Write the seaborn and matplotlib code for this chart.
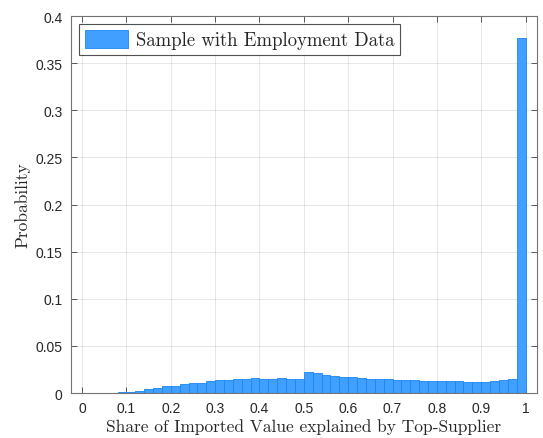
import matplotlib
matplotlib.use("Agg")
import matplotlib.pyplot as plt
import seaborn as sns
import numpy as np

# Data: bins of width 0.02 from 0 to 1, probability per bin
bin_edges = [round(0.02 * i, 2) for i in range(51)]
probabilities = [
    0.0, 0.0, 0.0, 0.0,                     # 0.00 - 0.08
    0.0007, 0.0014, 0.0025, 0.0042, 0.0053,  # 0.08 - 0.18
    0.0071, 0.0078, 0.0099, 0.0110, 0.0110,  # 0.18 - 0.28
    0.0127, 0.0134, 0.0134, 0.0145, 0.0145,  # 0.28 - 0.38
    0.0163, 0.0152, 0.0152, 0.0163, 0.0152,  # 0.38 - 0.48
    0.0152, 0.0226, 0.0216, 0.0194, 0.0180,  # 0.48 - 0.58
    0.0170, 0.0170, 0.0163, 0.0152, 0.0152,  # 0.58 - 0.68
    0.0145, 0.0134, 0.0134, 0.0134, 0.0127,  # 0.68 - 0.78
    0.0127, 0.0127, 0.0127, 0.0127, 0.0115,  # 0.78 - 0.88
    0.0115, 0.0115, 0.0125, 0.0137, 0.0148,  # 0.88 - 0.98
    0.3770,                                  # 0.98 - 1.00
]
bin_centers = [(bin_edges[i] + bin_edges[i + 1]) / 2 for i in range(50)]
x_ticks = [round(0.1 * i, 1) for i in range(11)]
y_ticks = [round(0.05 * i, 2) for i in range(9)]

sns.set_theme(style="white")

fig = plt.figure(figsize=(5.43, 4.39), dpi=100)
ax = fig.add_axes([0.1308, 0.1025, 0.8575, 0.8587])

sns.histplot(x=bin_centers, weights=probabilities, bins=bin_edges,
             stat="count", color="#409fff", alpha=1.0,
             edgecolor="#1a86f5", linewidth=0.6,
             label="Sample with Employment Data", ax=ax)

ax.set_xlim(-0.025, 1.025)
ax.set_ylim(0, 0.4)
ax.set_xticks(x_ticks)
ax.set_yticks(y_ticks)
ax.set_xticklabels([f"{t:g}" for t in x_ticks])
ax.set_yticklabels([f"{t:g}" for t in y_ticks])

ax.grid(True, color="0.15", alpha=0.13, linewidth=0.6)
ax.set_axisbelow(True)

for s in ["bottom", "left", "top", "right"]:
    ax.spines[s].set_color("0.45")
    ax.spines[s].set_linewidth(0.8)

ax.tick_params(which="major", direction="in", length=4, width=0.6,
               color="0.25", top=True, right=True, bottom=True, left=True,
               labelsize=10, labelcolor="0.15", pad=6)
for lbl in ax.get_xticklabels() + ax.get_yticklabels():
    lbl.set_family("Liberation Sans")

ax.set_xlabel("Share of Imported Value explained by Top-Supplier",
              family="cmr10", fontsize=12.5, color="0.15", labelpad=2)
ax.set_ylabel("Probability", family="cmr10", fontsize=12.5,
              color="0.15", labelpad=4)

leg = ax.legend(loc="upper left", prop={"family": "cmr10", "size": 13.5},
                frameon=True, fancybox=False, edgecolor="0.15",
                borderaxespad=0.45, handlelength=2.3, handleheight=1.1,
                borderpad=0.3, handletextpad=0.4)
leg.get_frame().set_linewidth(0.8)

fig.savefig("out.png", dpi=100, facecolor="white")
